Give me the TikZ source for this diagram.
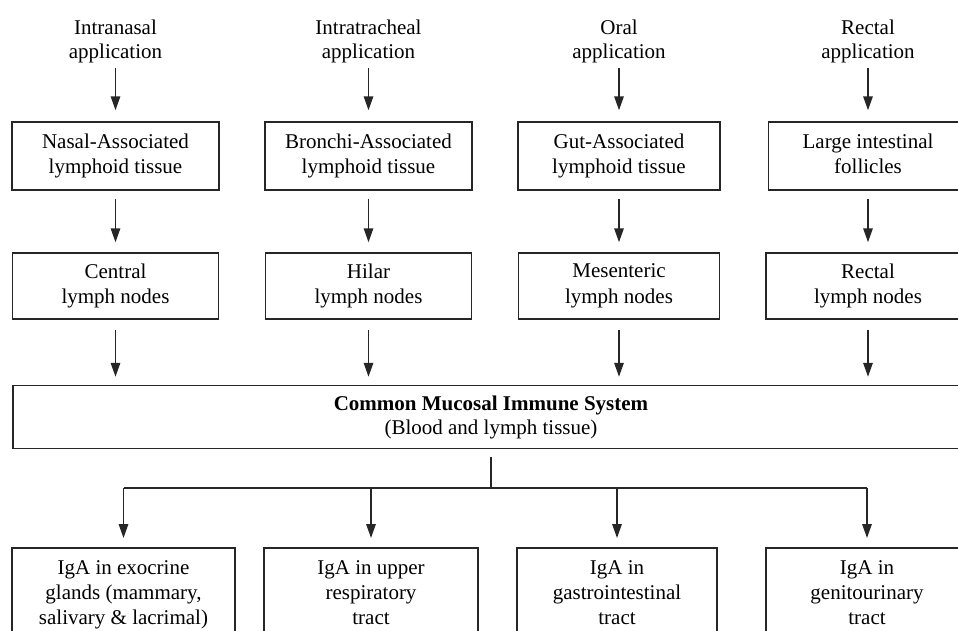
\documentclass[tikz,border=0pt]{standalone}
\usepackage{fontspec}
\setmainfont{Liberation Serif}
\usetikzlibrary{arrows.meta}
\tikzset{
  box/.style={draw=black!85, line width=1.5pt, inner sep=0pt, align=center,
    font=\fontsize{21}{25.5}\selectfont},
  lbl/.style={inner sep=0pt, align=center, font=\fontsize{21}{24}\selectfont},
  arr/.style={draw=black!85, line width=1.5pt, -{Triangle[length=14pt,width=9.5pt]},
    shorten <=8pt, shorten >=10pt},
  conn/.style={draw=black!85, line width=1.5pt}
}
\begin{document}
\begin{tikzpicture}[x=1pt,y=-1pt]
\clip (0,0) rectangle (958,630);
\fill[white] (0,0) rectangle (958,630);
% top labels
\node[lbl] (l1) at (115.5,41) {Intranasal\\application};
\node[lbl] (l2) at (368.5,41) {Intratracheal\\application};
\node[lbl] (l3) at (619,41) {Oral\\application};
\node[lbl] (l4) at (868,41) {Rectal\\application};
% row 1
\node[box, minimum width=207pt, minimum height=68pt] (a1) at (115.5,156) {Nasal-Associated\\lymphoid tissue};
\node[box, minimum width=207pt, minimum height=68pt] (a2) at (368.5,156) {Bronchi-Associated\\lymphoid tissue};
\node[box, minimum width=202pt, minimum height=68pt] (a3) at (619,156) {Gut-Associated\\lymphoid tissue};
\node[box, minimum width=199pt, minimum height=68pt] (a4) at (868,156) {Large intestinal\\follicles\vphantom{y}};
% row 2
\node[box, minimum width=206pt, minimum height=66pt] (n1) at (115.5,286) {Central\\lymph nodes};
\node[box, minimum width=206pt, minimum height=66pt] (n2) at (368.5,286) {Hilar\\lymph nodes};
\node[box, minimum width=201pt, minimum height=66pt] (n3) at (619,286) {Mesenteric\\lymph nodes};
\node[box, minimum width=204pt, minimum height=66pt] (n4) at (868,286) {Rectal\\lymph nodes};
% big box
\node[box, minimum width=956pt, minimum height=63pt, font=\fontsize{21}{24}\selectfont] (big) at (491,417) {\textbf{Common Mucosal Immune System}\\(Blood and lymph tissue)};
% bottom row
\node[box, anchor=north, minimum width=223pt, minimum height=94pt, font=\fontsize{21}{25}\selectfont] (b1) at (123.5,547) {IgA in exocrine\\glands (mammary,\\salivary \& lacrimal)};
\node[box, anchor=north, minimum width=214pt, minimum height=94pt, font=\fontsize{21}{25}\selectfont] (b2) at (371,547) {IgA in upper\\respiratory\\tract\vphantom{)}};
\node[box, anchor=north, minimum width=200pt, minimum height=94pt, font=\fontsize{21}{25}\selectfont] (b3) at (617,547) {IgA in\\gastrointestinal\\tract\vphantom{)}};
\node[box, anchor=north, minimum width=202pt, minimum height=94pt, font=\fontsize{21}{25}\selectfont] (b4) at (867,547) {IgA in\\genitourinary\\tract\vphantom{)}};
% arrows top
\foreach \i in {1,2,3,4}{
  \draw[arr, shorten <=5pt, shorten >=11pt] (l\i.south) -- (a\i.north);
  \draw[arr] (a\i.south) -- (n\i.north);
  \draw[arr, shorten <=10pt, shorten >=8pt] (n\i.south) -- (n\i.south |- big.north);
}
% distribution
\coordinate (hub) at (491,488);
\draw[conn, shorten <=8pt] (big.south) -- (hub);
\coordinate (h1) at (b1.north |- hub);
\coordinate (h2) at (b2.north |- hub);
\coordinate (h3) at (b3.north |- hub);
\coordinate (h4) at (b4.north |- hub);
\draw[conn] (h1) -- (h4);
\foreach \i in {1,2,3,4}{
  \draw[arr, shorten <=0pt, shorten >=9pt] (h\i) -- (b\i.north);
}
\end{tikzpicture}
\end{document}
